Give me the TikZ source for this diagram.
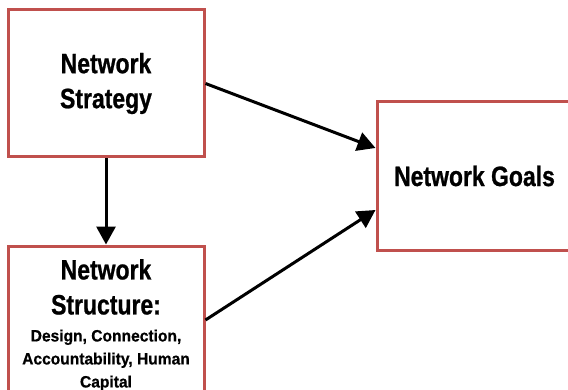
\documentclass[tikz,border=0pt]{standalone}
\usepackage{fontspec}
\setmainfont{Liberation Sans}[FakeStretch=0.82, BoldFeatures={FakeBold=0.8}]
\newfontfamily\detailfont{Liberation Sans}[FakeStretch=0.95, BoldFeatures={FakeBold=0.6}]
\usetikzlibrary{positioning}
\usetikzlibrary{calc}
\usetikzlibrary{arrows.meta}
\definecolor{boxred}{RGB}{192,80,77}

\begin{document}
\begin{tikzpicture}[x=0.5pt, y=-0.5pt,
		box/.style={draw=boxred, line width=1.5pt, fill=white, align=center, inner sep=0pt, font=\fontsize{14}{17.5}\selectfont\bfseries},
		link/.style={-{Triangle[length=9pt, width=9.5pt]}, line width=1.5pt}]
		\useasboundingbox (0,0) rectangle (568,390);
		\clip (0,0) rectangle (568,390);

		% Strategy
		\node[box, minimum width=98pt, minimum height=73.5pt] (strategy) at (106, 83.5) {Network\\Strategy};

		% Structure
		\node[box, minimum width=98pt, minimum height=79pt] (structure) at (106, 325) {Network\\Structure:\\[-4pt]
			{\detailfont\bfseries\fontsize{8.2}{11.5}\selectfont Design, Connection,}\\[-6pt]
			{\detailfont\bfseries\fontsize{8.2}{11.5}\selectfont Accountability, Human}\\[-6pt]
			{\detailfont\bfseries\fontsize{8.2}{11.5}\selectfont Capital}};

		% Goals
		\node[box, minimum width=97.5pt, minimum height=74pt] (goals) at (474.5, 176) {Network Goals};

		% Arrows
		\draw[link] (strategy.south) -- (structure.north);
		\draw[link] (strategy.east) -- ($(goals.west)+(0,-28)$);
		\draw[link] ($(structure.east)+(0,-5)$) -- ($(goals.west)+(0,34)$);
	\end{tikzpicture}
\end{document}
